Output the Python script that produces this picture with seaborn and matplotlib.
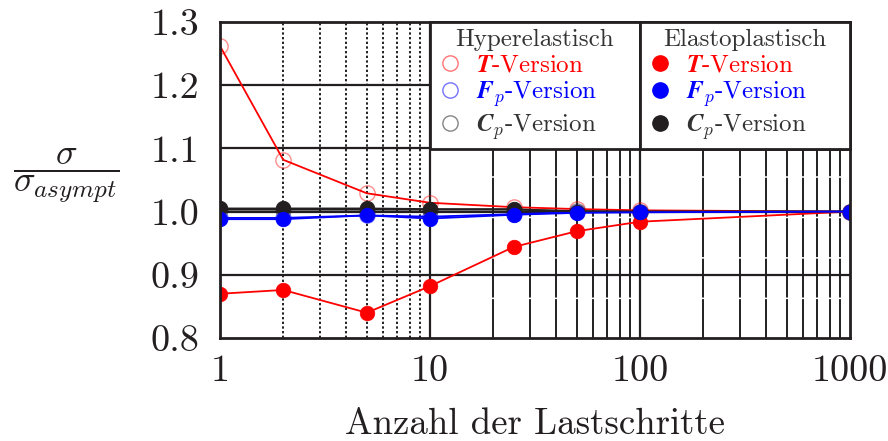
import numpy as np
import pandas as pd
import matplotlib
matplotlib.use("Agg")
import matplotlib.pyplot as plt
import seaborn as sns
from matplotlib.lines import Line2D
from matplotlib.ticker import FixedLocator, FixedFormatter, NullLocator

# ---------------- data ----------------
steps = [1, 2, 5, 10, 25, 50, 100, 1000]
hyper_T = [1.262, 1.082, 1.029, 1.014, 1.007, 1.004, 1.002, 1.000]
hyper_Fp = [0.990, 0.990, 0.994, 0.992, 0.996, 0.999, 0.999, 1.000]
hyper_Cp = [1.003, 1.003, 1.003, 1.003, 1.003, 1.001, 1.000, 1.000]
elasto_T = [0.870, 0.876, 0.840, 0.882, 0.944, 0.969, 0.984, 1.000]
elasto_Fp = [0.988, 0.988, 0.994, 0.989, 0.995, 0.998, 0.999, 1.000]
elasto_Cp = [1.005, 1.005, 1.005, 1.004, 1.004, 1.000, 1.000, 1.000]

yticks = [0.8, 0.9, 1.0, 1.1, 1.2, 1.3]
ytick_labels = ["0.8", "0.9", "1.0", "1.1", "1.2", "1.3"]
xticks = [1, 10, 100, 1000]
xtick_labels = ["1", "10", "100", "1000"]

RED, BLUE, BLACK = "#ff0000", "#0000ff", "#231f20"

sns.set_theme(style="white")
plt.rcParams["font.family"] = ["cmr10", "DejaVu Serif"]
plt.rcParams["mathtext.fontset"] = "cm"
plt.rcParams["axes.formatter.use_mathtext"] = True
plt.rcParams["axes.unicode_minus"] = False

fig = plt.figure(figsize=(8.88, 4.41), dpi=100)
ax = fig.add_axes([220 / 888, 1 - 338 / 441, 630 / 888, 316 / 441])
ax.set_xscale("log")
ax.set_xlim(1, 1000)
ax.set_ylim(0.8, 1.3)

# ---- grid ----
gc = "#231f20"
for y in [0.9, 1.0, 1.1, 1.2]:
    ax.axhline(y, color=gc, lw=1.6, zorder=1)
for x in [10, 100]:
    ax.axvline(x, color=gc, lw=1.6, zorder=1)
for x in range(2, 10):
    ax.axvline(x, color=gc, lw=1.4, ls=(0, (1.2, 1.2)), zorder=1)
for d in [10, 100]:
    for m in range(2, 10):
        ax.axvline(m * d, color=gc, lw=1.4, ls=(0, (20, 0.8)), zorder=1)

# ---- data ----
rows = []
for name, vals in [("hT", hyper_T), ("hFp", hyper_Fp), ("hCp", hyper_Cp),
                   ("eT", elasto_T), ("eCp", elasto_Cp), ("eFp", elasto_Fp)]:
    for s, v in zip(steps, vals):
        rows.append({"series": name, "steps": s, "value": v})
df = pd.DataFrame(rows)

styles = {
    "hT": dict(color=RED, open=True),
    "hFp": dict(color=BLUE, open=True),
    "hCp": dict(color=BLACK, open=True),
    "eT": dict(color=RED, open=False),
    "eCp": dict(color=BLACK, open=False),
    "eFp": dict(color=BLUE, open=False),
}
z = 3
for name, st in styles.items():
    sub = df[df["series"] == name]
    if st["open"]:
        sns.lineplot(data=sub, x="steps", y="value", ax=ax, color=st["color"], lw=1.3,
                     marker="o", markersize=11, markerfacecolor="none",
                     markeredgecolor=matplotlib.colors.to_rgba(st["color"], 0.45),
                     markeredgewidth=1.0, zorder=z, legend=False)
    else:
        sns.lineplot(data=sub, x="steps", y="value", ax=ax, color=st["color"], lw=1.3,
                     marker="o", markersize=10.5, markerfacecolor=st["color"],
                     markeredgecolor=st["color"], markeredgewidth=0.5, zorder=z,
                     legend=False)
    z += 1

# ---- axes styling ----
for sp in ax.spines.values():
    sp.set_visible(True)
    sp.set_color(gc)
    sp.set_linewidth(2.0)
    sp.set_zorder(10)
ax.xaxis.set_major_locator(FixedLocator(xticks))
ax.xaxis.set_major_formatter(FixedFormatter(xtick_labels))
ax.xaxis.set_minor_locator(NullLocator())
ax.yaxis.set_major_locator(FixedLocator(yticks))
ax.yaxis.set_major_formatter(FixedFormatter(ytick_labels))
ax.tick_params(axis="both", length=0, labelsize=27.5, colors="#231f20")
ax.tick_params(axis="x", pad=12)
ax.tick_params(axis="y", pad=15)
ax.set_xlabel("")
ax.set_ylabel("")

fig.text(535 / 888, 1 - 424 / 441, "Anzahl der Lastschritte", ha="center", va="center",
         fontsize=26.5, color="#231f20")
fig.text(66 / 888, 1 - 176 / 441, r"$\dfrac{\sigma}{\sigma_{asympt}}$", ha="center",
         va="center", fontsize=26, color="#231f20")

# ---- legends ----
def make_handles(open_):
    hs = []
    for c in [RED, BLUE, BLACK]:
        if open_:
            hs.append(Line2D([], [], ls="none", marker="o", markersize=11,
                             markerfacecolor="none",
                             markeredgecolor=matplotlib.colors.to_rgba(c, 0.55),
                             markeredgewidth=1.0))
        else:
            hs.append(Line2D([], [], ls="none", marker="o", markersize=11,
                             markerfacecolor=c, markeredgecolor=c))
    return hs

labels = [r"$\mathbfit{T}$-Version", r"$\mathbfit{F}_p$-Version", r"$\mathbfit{C}_p$-Version"]
label_colors = [RED, BLUE, "#333333"]

for i, (title, open_) in enumerate([("Hyperelastisch", True), ("Elastoplastisch", False)]):
    x0 = (1 / 3) if i == 0 else (2 / 3)
    leg = ax.legend(make_handles(open_), labels, title=title,
                    bbox_to_anchor=(x0, 0.6, 1 / 3, 0.4), loc="upper left",
                    mode="expand", borderaxespad=0, fontsize=18, title_fontsize=18,
                    frameon=True, fancybox=False, framealpha=1, edgecolor=gc,
                    handlelength=1.0, handletextpad=0.55, labelspacing=0.12,
                    borderpad=0.28, alignment="center")
    leg.get_frame().set_linewidth(2.0)
    leg.get_title().set_color("#333333")
    for t, c in zip(leg.get_texts(), label_colors):
        t.set_color(c)
    leg.set_zorder(20)
    ax.add_artist(leg)

fig.savefig("out.png", dpi=100, facecolor="white")
